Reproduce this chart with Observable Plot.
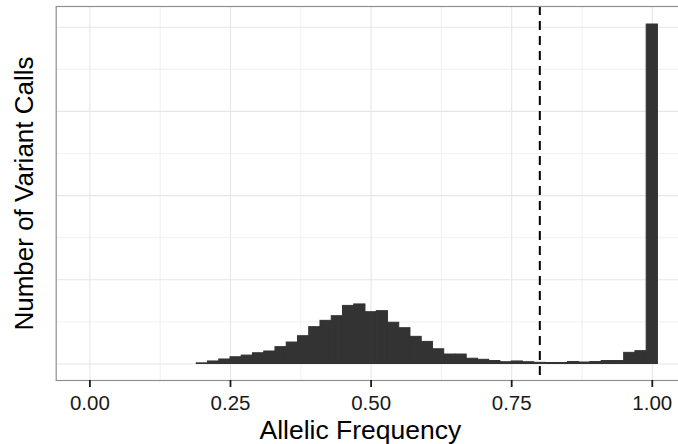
<!DOCTYPE html>
<html>
<head>
<meta charset="utf-8">
<script src="https://cdn.jsdelivr.net/npm/d3@7"></script>
<script src="https://cdn.jsdelivr.net/npm/@observablehq/plot@0.6"></script>
<style>
  html, body { margin: 0; padding: 0; background: #fff; }
  #chart svg { display: block; }
</style>
</head>
<body>
<div id="chart"></div>
<script>
// Histogram bin centers (allelic frequency) and counts
const binCenters = [0.20,0.22,0.24,0.26,0.28,0.30,0.32,0.34,0.36,0.38,0.40,0.42,0.44,0.46,0.48,0.50,0.52,0.54,0.56,0.58,0.60,0.62,0.64,0.66,0.68,0.70,0.72,0.74,0.76,0.78,0.80,0.82,0.84,0.86,0.88,0.90,0.92,0.94,0.96,0.98,1.00];
const counts     = [15,60,107,160,200,255,297,400,510,660,875,1025,1135,1380,1415,1230,1255,980,850,645,525,350,225,225,125,100,70,42,60,42,28,24,24,48,35,48,70,70,265,305,8064];
const binWidth = 0.02;
const cutoff = [0.8];
const xTicks = [0, 0.25, 0.5, 0.75, 1];
const xMinor = [0.125, 0.375, 0.625, 0.875];
const yMajor = [0, 2000, 4000, 6000, 8000];
const yMinor = [1000, 3000, 5000, 7000];
const xTitle = "Allelic Frequency";
const yTitle = "Number of Variant Calls";

const data = binCenters.map((x, i) => ({x, count: counts[i]}));
const font = "'Liberation Sans', Arial, Helvetica, sans-serif";

const chart = Plot.plot({
  width: 678,
  height: 444,
  marginLeft: 55.7,
  marginRight: -4,
  marginTop: 6,
  marginBottom: 64,
  style: {fontFamily: font, background: "#fff"},
  x: {domain: [-0.0599, 1.0537]},
  y: {domain: [-392, 8492]},
  marks: [
    Plot.gridX(xMinor, {stroke: "#ececec", strokeOpacity: 1, strokeWidth: 0.8}),
    Plot.gridX(xTicks, {stroke: "#e6e6e6", strokeOpacity: 1, strokeWidth: 1.1}),
    Plot.gridY(yMinor, {stroke: "#ececec", strokeOpacity: 1, strokeWidth: 0.8}),
    Plot.gridY(yMajor, {stroke: "#e6e6e6", strokeOpacity: 1, strokeWidth: 1.1}),
    Plot.rectY(data, {x1: d => d.x - binWidth / 2, x2: d => d.x + binWidth / 2, y: "count", fill: "#333333", stroke: "#333333", strokeWidth: 1}),
    Plot.ruleX(cutoff, {stroke: "#000", strokeWidth: 2, strokeDasharray: "9,6"}),
    Plot.frame({stroke: "#8f8f8f", strokeWidth: 1.2}),
    Plot.axisX(xTicks, {tickFormat: d3.format(".2f"), tickSize: 7, tickPadding: 8, fontSize: 20.5, color: "#1a1a1a", strokeWidth: 1.8, label: null}),
    Plot.axisY({ticks: [], label: null}),
    Plot.text([xTitle], {frameAnchor: "bottom", dx: -9, dy: 58, fontSize: 26.5, fill: "#000", lineAnchor: "bottom"}),
    Plot.text([yTitle], {frameAnchor: "left", dx: -32, rotate: -90, fontSize: 26, fill: "#000", textAnchor: "middle"})
  ]
});
document.getElementById("chart").appendChild(chart);
</script>
</body>
</html>
